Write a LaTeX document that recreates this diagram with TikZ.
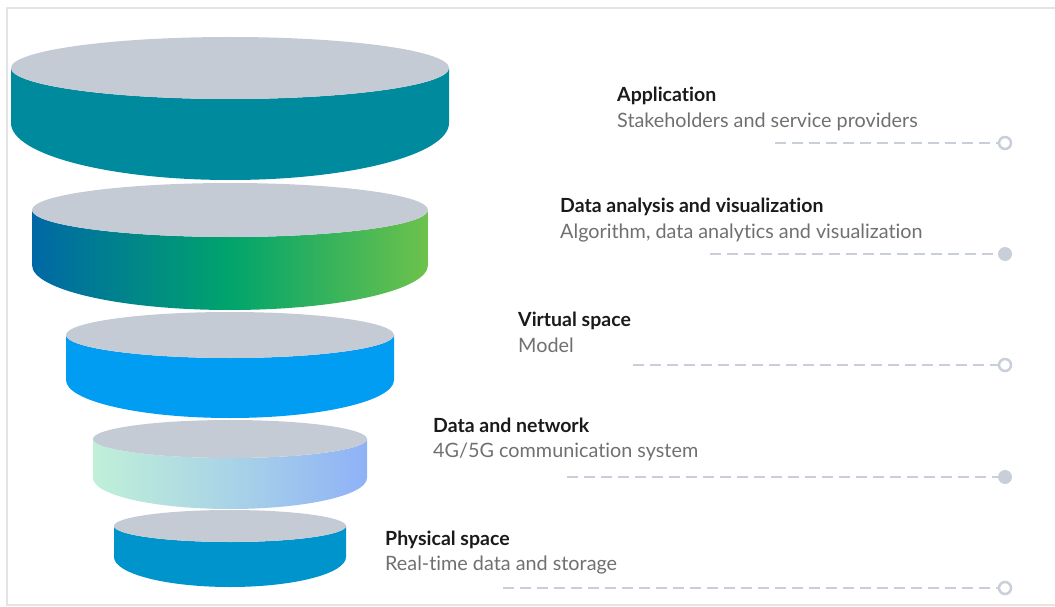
\documentclass[tikz,border=0pt]{standalone}
\usepackage{fontspec}
\setmainfont{Lato}[Ligatures=NoCommon]
\usepackage{xcolor}
\definecolor{disktop}{HTML}{C5CBD5}
\definecolor{tealside}{HTML}{008A9E}
\definecolor{skyside}{HTML}{009DF3}
\definecolor{oceanside}{HTML}{0094CD}
\definecolor{greenleft}{HTML}{0068A6}
\definecolor{greenmid}{HTML}{00A46C}
\definecolor{greenright}{HTML}{6DC24B}
\definecolor{mintleft}{HTML}{C0F0D8}
\definecolor{mintmid}{HTML}{A9D3E6}
\definecolor{mintright}{HTML}{8FB2F7}
\definecolor{dashgray}{HTML}{C9CFD9}
\definecolor{framegray}{HTML}{E4E4E4}
\definecolor{titlegray}{HTML}{1A1A1A}
\definecolor{subgray}{HTML}{707070}

\begin{document}
\begin{tikzpicture}[x=1pt,y=1pt,
    side1/.style={fill=tealside},
    side2/.style={left color=greenleft, right color=greenright, middle color=greenmid},
    side3/.style={fill=skyside},
    side4/.style={left color=mintleft, right color=mintright, middle color=mintmid},
    side5/.style={fill=oceanside},
    title/.style={anchor=base west, inner sep=0pt, text=titlegray,
        font=\fontsize{19.5}{22}\selectfont\bfseries},
    subtitle/.style={anchor=base west, inner sep=0pt, text=subgray,
        font=\fontsize{19.8}{22}\selectfont},
    dashline/.style={draw=dashgray, line width=2.8pt, dash pattern=on 11pt off 6pt},
    openend/.style={circle, draw=dashgray, fill=white, line width=2.5pt,
        minimum size=12pt, inner sep=0pt},
    fullend/.style={circle, fill=dashgray, minimum size=14pt, inner sep=0pt},
]
\useasboundingbox (0,0) rectangle (1055,-607);

% Frame
\draw[framegray, line width=1.5pt] (1055,-8) -- (7,-8) -- (7,-605) -- (1055,-605);

% Disks: centre x / half width / top y / top radius / side height / bottom radius
\foreach \cx/\rx/\ty/\ry/\sh/\by/\sidestyle in {
    230/219/68/31/55/57/side1,
    230/198/210/27/55/45/side2,
    230/164/335/23/45/38/side3,
    230/137/439/19/39/31/side4,
    230/116/526/16/31/30/side5} {
  \path[\sidestyle] (\cx-\rx,-\ty) -- ++(0,-\sh)
      arc[start angle=180, end angle=360, x radius=\rx, y radius=\by]
      -- ++(0,\sh)
      arc[start angle=0, end angle=-180, x radius=\rx, y radius=\ry] -- cycle;
  \fill[disktop] (\cx,-\ty) ellipse[x radius=\rx, y radius=\ry];
}

% Application
\node[title] (app) at (617,-102) {Application};
\node[subtitle] (appsub) at (617,-128) {Stakeholders and service providers};
\coordinate (appstart) at (775,-143);
\node[openend] (append) at (1005,-143) {};
\draw[dashline] (appstart) -- (append);

% Data analysis
\node[title] (ana) at (560,-212) {Data analysis and visualization};
\node[subtitle] (anasub) at (560,-238) {Algorithm, data analytics and visualization};
\coordinate (anastart) at (710,-254);
\node[fullend] (anaend) at (1005,-254) {};
\draw[dashline] (anastart) -- (anaend);

% Virtual space
\node[title] (virt) at (518,-326) {Virtual space};
\node[subtitle] (virtsub) at (518,-352) {Model};
\coordinate (virtstart) at (633,-365);
\node[openend] (virtend) at (1005,-365) {};
\draw[dashline] (virtstart) -- (virtend);

% Data and network
\node[title] (net) at (433,-432) {Data and network};
\node[subtitle] (netsub) at (433,-457) {4G/5G communication system};
\coordinate (netstart) at (567,-477);
\node[fullend] (netend) at (1005,-477) {};
\draw[dashline] (netstart) -- (netend);

% Physical space
\node[title] (phys) at (385,-545) {Physical space};
\node[subtitle] (physsub) at (385,-570) {Real-time data and storage};
\coordinate (physstart) at (503,-588);
\node[openend] (physend) at (1005,-588) {};
\draw[dashline] (physstart) -- (physend);

\end{tikzpicture}
\end{document}
